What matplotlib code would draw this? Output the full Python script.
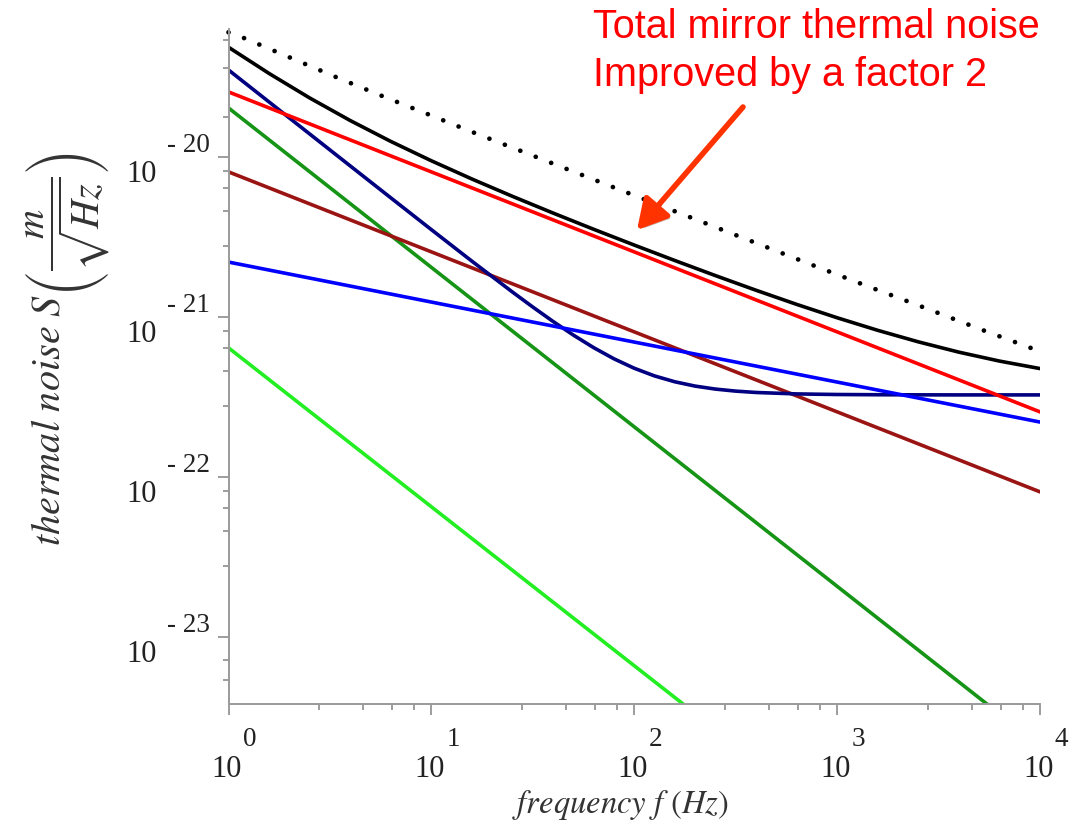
import matplotlib
matplotlib.use('Agg')
import matplotlib.pyplot as plt
import matplotlib.patheffects as pe
from matplotlib.ticker import FixedLocator, NullFormatter

plt.rcParams['font.family'] = ['Liberation Serif', 'DejaVu Serif']
plt.rcParams['mathtext.fontset'] = 'stix'

# frequency grid (Hz) for the total trace, five readings per decade
freq = [1, 1.585, 2.512, 3.981, 6.31, 10, 15.85, 25.12, 39.81, 63.1, 100,
        158.5, 251.2, 398.1, 631, 1000, 1585, 2512, 3981, 6310, 10000]

# total noise (solid black)
total_noise = [4.888e-20, 3.351e-20, 2.356e-20, 1.702e-20, 1.260e-20, 9.535e-21,
               7.334e-21, 5.715e-21, 4.494e-21, 3.558e-21, 2.835e-21, 2.270e-21,
               1.827e-21, 1.480e-21, 1.208e-21, 9.961e-22, 8.312e-22, 7.043e-22,
               6.071e-22, 5.340e-22, 4.793e-22]

# dark blue trace that levels off (denser readings around the bend)
navy_freq = [1, 1.585, 2.512, 3.981, 6.31, 10, 15.85, 25.12, 31.62, 39.81, 50.12,
             63.1, 79.43, 100, 125.9, 158.5, 199.5, 251.2, 316.2, 398.1, 631,
             1000, 1585, 2512, 3981, 6310, 10000]
navy_noise = [3.524e-20, 2.223e-20, 1.403e-20, 8.858e-21, 5.595e-21, 3.539e-21,
              2.247e-21, 1.441e-21, 1.162e-21, 9.441e-22, 7.759e-22, 6.477e-22,
              5.517e-22, 4.815e-22, 4.312e-22, 3.963e-22, 3.725e-22, 3.568e-22,
              3.465e-22, 3.398e-22, 3.328e-22, 3.300e-22, 3.289e-22, 3.284e-22,
              3.281e-22, 3.281e-22, 3.281e-22]

# old total (dotted black)
dotted_freq = [1, 1.2, 2.41, 3.41, 5.73, 9.66, 16.2, 32.7, 46.5, 110.7,
               753, 1271, 2560, 5190, 8810, 10000]
dotted_noise = [6.06e-20, 5.56e-20, 3.82e-20, 3.17e-20, 2.42e-20, 1.86e-20,
                1.43e-20, 1.01e-20, 8.47e-21, 5.51e-21, 2.13e-21, 1.65e-21,
                1.18e-21, 8.36e-22, 6.52e-22, 6.12e-22]

# straight power laws, read at both ends
end_freq = [1, 10000]
mirror_noise = [2.57e-20, 2.57e-22]      # red
brown_noise = [8.13e-21, 8.13e-23]
blue_noise = [2.22e-21, 2.22e-22]
green_freq = [1, 5470]
green_noise = [2.04e-20, 3.84e-24]
lime_freq = [1, 174]
lime_noise = [6.46e-22, 3.84e-24]

# tick decades
x_dec = [0, 1, 2, 3, 4]
y_dec = [-20, -21, -22, -23]

px = 0.72  # points per pixel at dpi 100
txt = '#222222'

fig = plt.figure(figsize=(10.84, 8.27), dpi=100)
ax = fig.add_axes([0.2108, 0.14873, 0.7486, 0.8156])
ax.set_xscale('log')
ax.set_yscale('log')

lw = 2.6
ax.plot(dotted_freq, dotted_noise, color='black', lw=3.4,
        linestyle=(0, (0.01, 3.5)), dash_capstyle='round', clip_on=False)
ax.plot(lime_freq, lime_noise, color='#22ee22', lw=lw)
ax.plot(green_freq, green_noise, color='#169416', lw=lw)
ax.plot(end_freq, brown_noise, color='#9b1414', lw=lw)
ax.plot(navy_freq, navy_noise, color='#000080', lw=lw)
ax.plot(end_freq, blue_noise, color='#0000ff', lw=lw)
ax.plot(end_freq, mirror_noise, color='#ff0000', lw=lw)
ax.plot(freq, total_noise, color='black', lw=lw)

ax.set_xlim(1, 1e4)
ax.set_ylim(10 ** -23.416, 10 ** -19.2)

# Maple-like axes: only left and bottom, gray, ticks outward
for s in ['top', 'right']:
    ax.spines[s].set_visible(False)
for s in ['left', 'bottom']:
    ax.spines[s].set_color('#9a9a9a')
    ax.spines[s].set_linewidth(1.4)

ax.xaxis.set_major_locator(FixedLocator([10.0 ** k for k in x_dec]))
ax.xaxis.set_minor_locator(FixedLocator([m * 10.0 ** k for k in range(4)
                                         for m in (2.8, 4.6, 6.4, 8.2)]))
ax.yaxis.set_major_locator(FixedLocator([10.0 ** k for k in y_dec]))
y_minor = [5.4e-24, 7.2e-24]
for k in (-23, -22, -21):
    y_minor += [m * 10.0 ** k for m in (2.8, 4.6, 6.4, 8.2)]
y_minor += [1.8e-20, 3.6e-20, 5.4e-20]
ax.yaxis.set_minor_locator(FixedLocator(y_minor))
ax.xaxis.set_minor_formatter(NullFormatter())
ax.yaxis.set_minor_formatter(NullFormatter())
ax.tick_params(which='both', direction='out', color='#8c8c8c', width=1.2,
               labelbottom=False, labelleft=False)
ax.tick_params(which='major', length=8)
ax.tick_params(which='minor', length=4.5)

# tick labels written as 10 with the exponent up and to the right
for k in x_dec:
    ax.annotate('10', xy=(10.0 ** k, 0), xycoords=('data', 'axes fraction'),
                xytext=(-1.5 * px, -73 * px), textcoords='offset points',
                ha='center', va='baseline', fontsize=22, color=txt,
                annotation_clip=False)
    ax.annotate(str(k), xy=(10.0 ** k, 0), xycoords=('data', 'axes fraction'),
                xytext=(21.5 * px, -42 * px), textcoords='offset points',
                ha='center', va='baseline', fontsize=19.5, color=txt,
                annotation_clip=False)
for k in y_dec:
    ax.annotate('10', xy=(0, 10.0 ** k), xycoords=('axes fraction', 'data'),
                xytext=(-86.5 * px, -25 * px), textcoords='offset points',
                ha='center', va='baseline', fontsize=22, color=txt,
                annotation_clip=False)
    ax.annotate('- %d' % abs(k), xy=(0, 10.0 ** k), xycoords=('axes fraction', 'data'),
                xytext=(-40 * px, 5 * px), textcoords='offset points',
                ha='center', va='baseline', fontsize=19.5, color=txt,
                annotation_clip=False)

fig.text(620 / 1084, 1 - 805 / 827, r'$\mathit{frequency}\ f\ (\mathit{Hz})$',
         ha='center', va='center', fontsize=23.5, color='#333333')
fig.text(67 / 1084, 1 - 349 / 827,
         r'$\mathit{thermal\ noise}\ S\left(\dfrac{m}{\sqrt{Hz}}\right)$',
         ha='center', va='center', rotation=90, fontsize=29, color='#333333')

# red annotation
fig.text(593 / 1084, 1 - 38 / 827, 'Total mirror thermal noise',
         family='Liberation Sans', fontsize=28.5, color='#ff0000', va='baseline')
fig.text(593 / 1084, 1 - 86 / 827, 'Improved by a factor 2',
         family='Liberation Sans', fontsize=28.5, color='#ff0000', va='baseline')
ax.annotate('', xy=(637 / 1084, 1 - 230 / 827), xycoords='figure fraction',
            xytext=(743 / 1084, 1 - 107 / 827), textcoords='figure fraction',
            arrowprops=dict(arrowstyle='-|>,head_length=0.9,head_width=0.5',
                            color='#ff3300', lw=4, mutation_scale=20,
                            shrinkA=0, shrinkB=0,
                            path_effects=[pe.SimplePatchShadow(offset=(2, -2), alpha=0.3),
                                          pe.Normal()]),
            annotation_clip=False)

fig.savefig('out.png', dpi=100)
